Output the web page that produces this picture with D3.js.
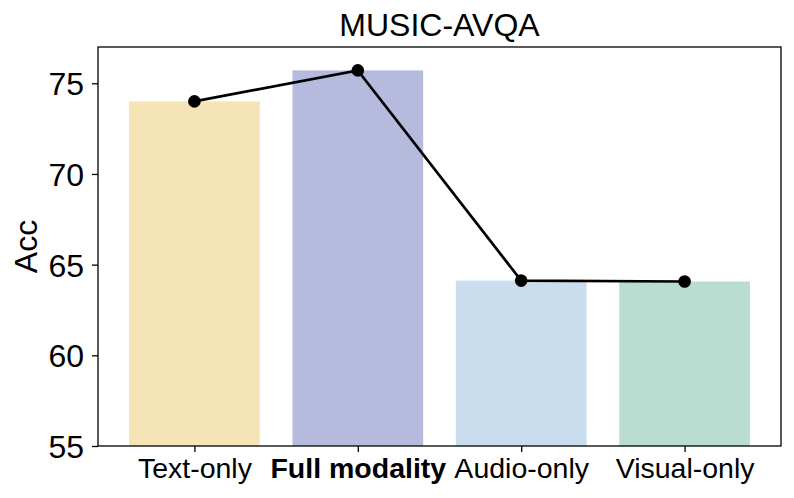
<!DOCTYPE html>
<html>
<head>
<meta charset="utf-8">
<script src="https://cdn.jsdelivr.net/npm/d3@7"></script>
<style>
  body { margin: 0; background: #fff; }
  svg { display: block; font-family: "Liberation Sans", Arial, sans-serif; }
</style>
</head>
<body>
<svg id="chart"></svg>
<script>
const categories = ['Text-only', 'Full modality', 'Audio-only', 'Visual-only'];
const accValues = [74.0, 75.71, 64.12, 64.07];
const barColors = ['#f5e4b5', '#b6badd', '#c9ddee', '#b9ddd1'];
const yTicks = [55, 60, 65, 70, 75];

const width = 794, height = 498;
const margin = { top: 47, right: 13, bottom: 52, left: 98 };
const innerW = width - margin.left - margin.right;
const innerH = height - margin.top - margin.bottom;

const svg = d3.select('#chart')
  .attr('width', width)
  .attr('height', height);

const g = svg.append('g')
  .attr('transform', `translate(${margin.left},${margin.top})`);

// matplotlib-like: bar width 0.8, 5% margins on each side
const xScale = d3.scaleLinear().domain([-0.59, 3.59]).range([0, innerW]);
const yScale = d3.scaleLinear().domain([55, 77]).range([innerH, 0]);

g.selectAll('.bar')
  .data(accValues)
  .enter()
  .append('rect')
  .attr('class', 'bar')
  .attr('x', (d, i) => xScale(i - 0.4))
  .attr('y', (d) => yScale(d))
  .attr('width', xScale(0.8) - xScale(0))
  .attr('height', (d) => innerH - yScale(d))
  .attr('fill', (d, i) => barColors[i]);

const line = d3.line()
  .x((d, i) => xScale(i))
  .y((d) => yScale(d));

g.append('path')
  .datum(accValues)
  .attr('d', line)
  .attr('fill', 'none')
  .attr('stroke', '#000')
  .attr('stroke-width', 2.7);

g.selectAll('.dot')
  .data(accValues)
  .enter()
  .append('circle')
  .attr('class', 'dot')
  .attr('cx', (d, i) => xScale(i))
  .attr('cy', (d) => yScale(d))
  .attr('r', 6.3)
  .attr('fill', '#000');

// axes
const yAxis = d3.axisLeft(yScale).tickValues(yTicks).tickSize(6).tickPadding(8);
const xAxis = d3.axisBottom(xScale).tickValues(d3.range(categories.length))
  .tickFormat((i) => categories[i]).tickSize(6).tickPadding(5);

const gy = g.append('g').call(yAxis);
gy.select('.domain').remove();
gy.selectAll('text').style('font-size', '32px').attr('fill', '#000').attr('dy', '0.36em');
gy.selectAll('line').attr('stroke', '#000').attr('stroke-width', 1.3);

const gx = g.append('g').attr('transform', `translate(0,${innerH})`).call(xAxis);
gx.select('.domain').remove();
gx.selectAll('text').style('font-size', '28.5px').attr('fill', '#000')
  .attr('y', 32).attr('dy', 0)
  .style('font-weight', (i) => i === 1 ? 'bold' : 'normal');
gx.selectAll('line').attr('stroke', '#000').attr('stroke-width', 1.3);

// frame
g.append('rect')
  .attr('width', innerW)
  .attr('height', innerH)
  .attr('fill', 'none')
  .attr('stroke', '#000')
  .attr('stroke-width', 1.3);

// title and y label
svg.append('text')
  .attr('x', margin.left + innerW / 2)
  .attr('y', 36)
  .attr('text-anchor', 'middle')
  .style('font-size', '32px')
  .text('MUSIC-AVQA');

svg.append('text')
  .attr('transform', `translate(37,${margin.top + innerH / 2}) rotate(-90)`)
  .attr('text-anchor', 'middle')
  .style('font-size', '32px')
  .text('Acc');
</script>
</body>
</html>
